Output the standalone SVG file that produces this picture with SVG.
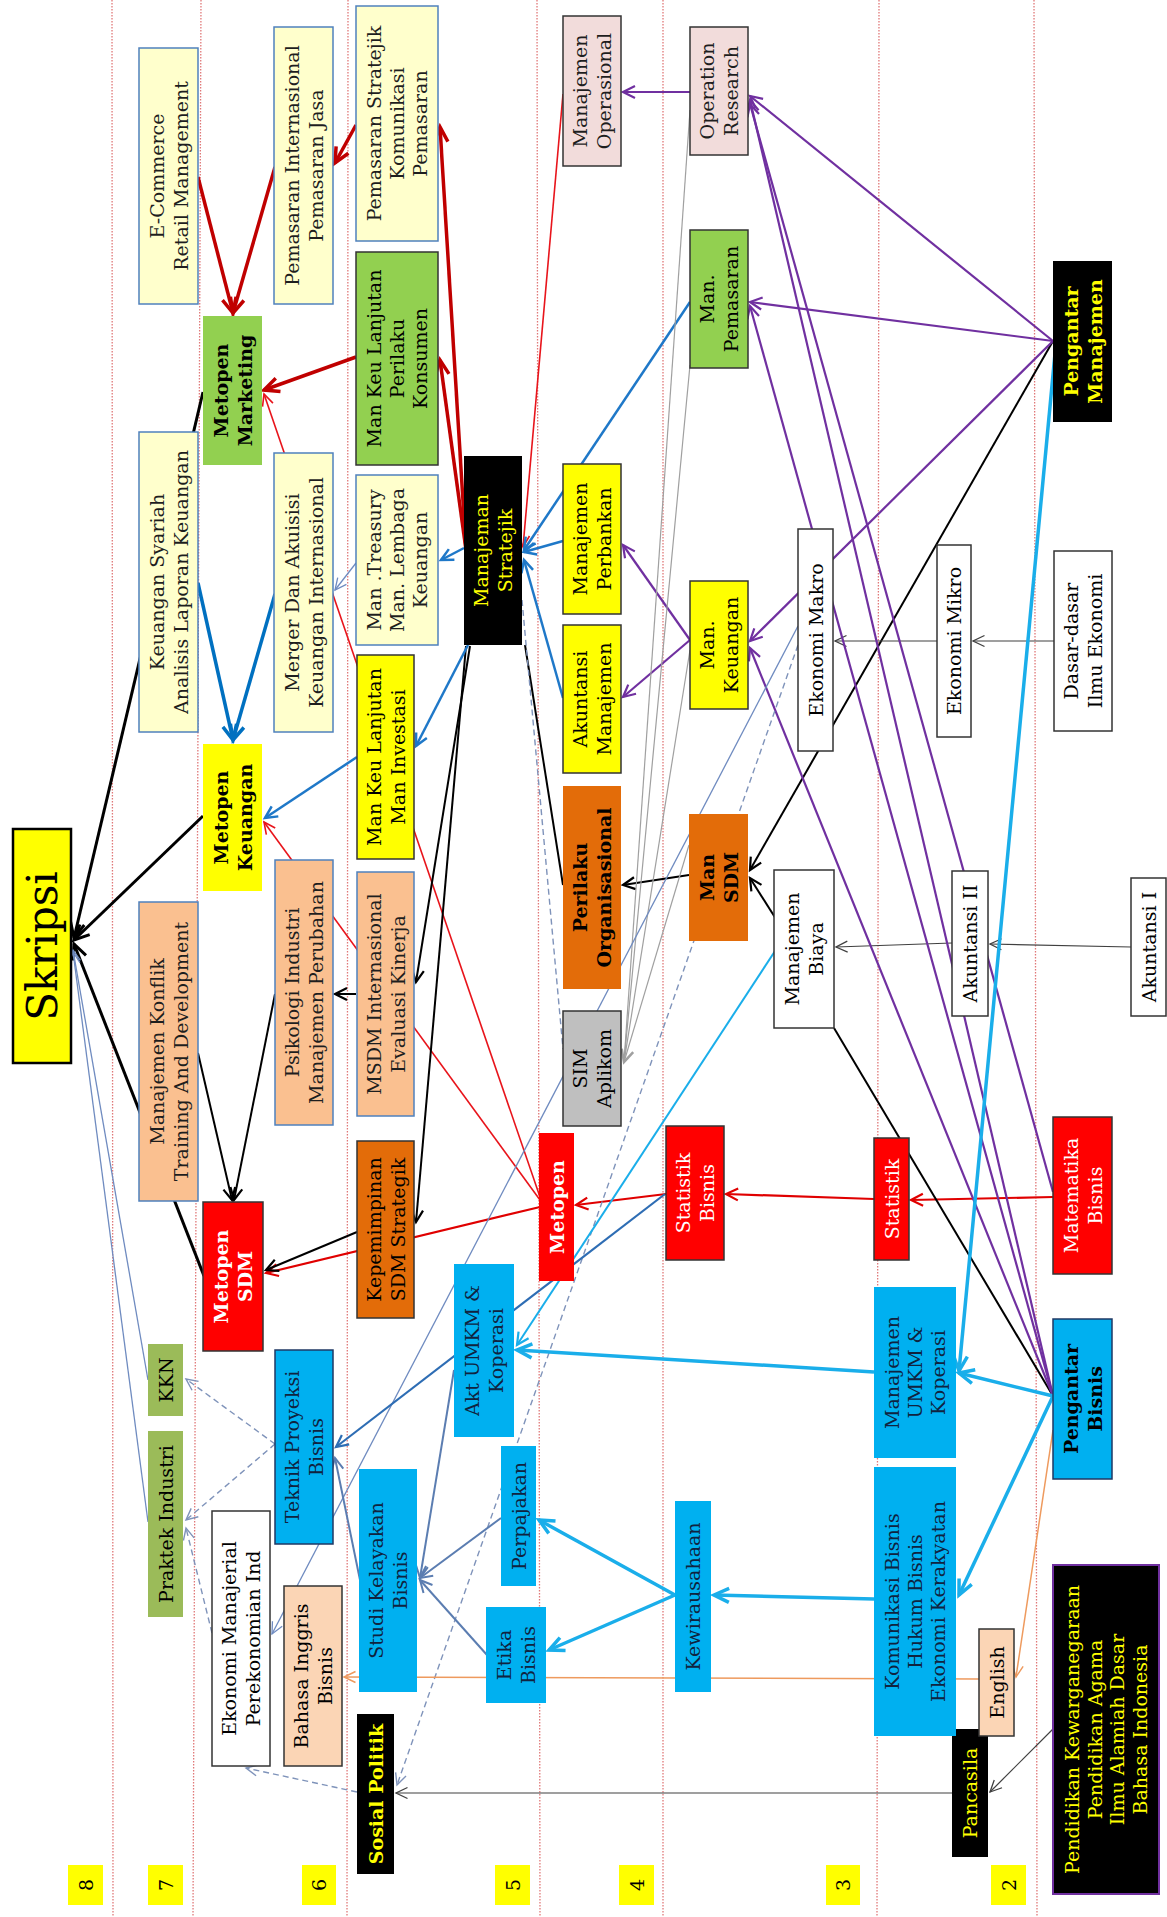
<svg xmlns="http://www.w3.org/2000/svg" width="1167" height="1917" viewBox="0 0 1167 1917">
<defs>
<style>
.sep{stroke:#E07878;stroke-width:1.3;stroke-dasharray:1.5 1.5;fill:none}
.k3{stroke:#000;stroke-width:3}
.k2{stroke:#000;stroke-width:2}
.g1{stroke:#404040;stroke-width:1.2}
.r3{stroke:#C00000;stroke-width:3.5}
.r2{stroke:#E00000;stroke-width:2.2}
.r1{stroke:#E8141B;stroke-width:1.6}
.b3{stroke:#0070C0;stroke-width:3.5}
.b2{stroke:#1F78C8;stroke-width:2.5}
.s2{stroke:#5B7DB1;stroke-width:2}
.s1{stroke:#6F8BC0;stroke-width:1.3}
.p2{stroke:#7030A0;stroke-width:2.2}
.c3{stroke:#1AAEEA;stroke-width:3.5}
.c2{stroke:#1AAEEA;stroke-width:2}
.gy1{stroke:#A0A0A0;stroke-width:1.2}
.d1{stroke:#7F93BA;stroke-width:1.4;stroke-dasharray:6 4}
.o1{stroke:#EE9A5E;stroke-width:1.5}
.db{stroke:#2E6DB4;stroke-width:2.2}
.ly{fill:#FFFFCC;stroke:#4F81BD;stroke-width:1.5}
.pc{fill:#FAC090;stroke:#4F81BD;stroke-width:1.5}
.gr{fill:#92D050}
.grs{fill:#92D050;stroke:#333;stroke-width:1.5}
.ol{fill:#9BBB59}
.yl{fill:#FFFF00}
.yls{fill:#FFFF00;stroke:#333;stroke-width:1.5}
.or{fill:#E36C09}
.ors{fill:#E36C09;stroke:#333;stroke-width:1.5}
.rd{fill:#FF0000}
.rds{fill:#FF0000;stroke:#333;stroke-width:1.5}
.pk{fill:#F2DCDB;stroke:#333;stroke-width:1.5}
.gy{fill:#BFBFBF;stroke:#333;stroke-width:1.5}
.cy{fill:#00B0F0}
.cys{fill:#00B0F0;stroke:#1F3864;stroke-width:1.5}
.wh{fill:#FFFFFF;stroke:#333;stroke-width:1.5}
.bk{fill:#000}
.bp{fill:#000;stroke:#7030A0;stroke-width:2}
.lp{fill:#FBD5B5;stroke:#333;stroke-width:1.5}
.sk{fill:#FFFF00;stroke:#000;stroke-width:2.5}
.t{font-family:"DejaVu Serif","Liberation Serif",serif;font-size:19px;text-anchor:middle;dominant-baseline:central;fill:#1E1E1E}
.b{font-weight:bold}
.w{fill:#FFFFFF}
.y{fill:#FFFF00}
.n{fill:#10233F}
.k{fill:#000}
</style>
<marker id="aBlkL" markerUnits="userSpaceOnUse" viewBox="0 0 20 20" markerWidth="20" markerHeight="20" refX="18" refY="10" orient="auto" overflow="visible"><path d="M3,3 L18,10 L3,17" fill="none" stroke="#000" stroke-width="3"/></marker>
<marker id="aBlkM" markerUnits="userSpaceOnUse" viewBox="0 0 16 16" markerWidth="16" markerHeight="16" refX="14" refY="8" orient="auto" overflow="visible"><path d="M2,2 L14,8 L2,14" fill="none" stroke="#000" stroke-width="2.2"/></marker>
<marker id="aDgyS" markerUnits="userSpaceOnUse" viewBox="0 0 14 14" markerWidth="14" markerHeight="14" refX="13" refY="7" orient="auto" overflow="visible"><path d="M1.5,1.5 L13,7 L1.5,12.5" fill="none" stroke="#404040" stroke-width="1.3"/></marker>
<marker id="aRedL" markerUnits="userSpaceOnUse" viewBox="0 0 20 20" markerWidth="20" markerHeight="20" refX="18" refY="10" orient="auto" overflow="visible"><path d="M3,3 L18,10 L3,17" fill="none" stroke="#C00000" stroke-width="3.5"/></marker>
<marker id="aRedM" markerUnits="userSpaceOnUse" viewBox="0 0 16 16" markerWidth="16" markerHeight="16" refX="14" refY="8" orient="auto" overflow="visible"><path d="M2,2 L14,8 L2,14" fill="none" stroke="#E00000" stroke-width="2.2"/></marker>
<marker id="aRedS" markerUnits="userSpaceOnUse" viewBox="0 0 14 14" markerWidth="14" markerHeight="14" refX="13" refY="7" orient="auto" overflow="visible"><path d="M1.5,1.5 L13,7 L1.5,12.5" fill="none" stroke="#E8141B" stroke-width="1.6"/></marker>
<marker id="aBluL" markerUnits="userSpaceOnUse" viewBox="0 0 20 20" markerWidth="20" markerHeight="20" refX="18" refY="10" orient="auto" overflow="visible"><path d="M3,3 L18,10 L3,17" fill="none" stroke="#0070C0" stroke-width="3.5"/></marker>
<marker id="aBluM" markerUnits="userSpaceOnUse" viewBox="0 0 16 16" markerWidth="16" markerHeight="16" refX="14" refY="8" orient="auto" overflow="visible"><path d="M2,2 L14,8 L2,14" fill="none" stroke="#1F78C8" stroke-width="2.5"/></marker>
<marker id="aDbM" markerUnits="userSpaceOnUse" viewBox="0 0 16 16" markerWidth="16" markerHeight="16" refX="14" refY="8" orient="auto" overflow="visible"><path d="M2,2 L14,8 L2,14" fill="none" stroke="#2E6DB4" stroke-width="2.2"/></marker>
<marker id="aSlaM" markerUnits="userSpaceOnUse" viewBox="0 0 16 16" markerWidth="16" markerHeight="16" refX="14" refY="8" orient="auto" overflow="visible"><path d="M2,2 L14,8 L2,14" fill="none" stroke="#5B7DB1" stroke-width="2"/></marker>
<marker id="aSlaS" markerUnits="userSpaceOnUse" viewBox="0 0 14 14" markerWidth="14" markerHeight="14" refX="13" refY="7" orient="auto" overflow="visible"><path d="M1.5,1.5 L13,7 L1.5,12.5" fill="none" stroke="#6F8BC0" stroke-width="1.3"/></marker>
<marker id="aPurM" markerUnits="userSpaceOnUse" viewBox="0 0 16 16" markerWidth="16" markerHeight="16" refX="14" refY="8" orient="auto" overflow="visible"><path d="M2,2 L14,8 L2,14" fill="none" stroke="#7030A0" stroke-width="2.2"/></marker>
<marker id="aCyaL" markerUnits="userSpaceOnUse" viewBox="0 0 20 20" markerWidth="20" markerHeight="20" refX="18" refY="10" orient="auto" overflow="visible"><path d="M3,3 L18,10 L3,17" fill="none" stroke="#1AAEEA" stroke-width="3.5"/></marker>
<marker id="aCyaM" markerUnits="userSpaceOnUse" viewBox="0 0 16 16" markerWidth="16" markerHeight="16" refX="14" refY="8" orient="auto" overflow="visible"><path d="M2,2 L14,8 L2,14" fill="none" stroke="#1AAEEA" stroke-width="2.2"/></marker>
<marker id="aGryS" markerUnits="userSpaceOnUse" viewBox="0 0 16 16" markerWidth="16" markerHeight="16" refX="14" refY="8" orient="auto" overflow="visible"><path d="M2,2 L14,8 L2,14" fill="none" stroke="#A0A0A0" stroke-width="2.5"/></marker>
<marker id="aDshS" markerUnits="userSpaceOnUse" viewBox="0 0 14 14" markerWidth="14" markerHeight="14" refX="13" refY="7" orient="auto" overflow="visible"><path d="M1.5,1.5 L13,7 L1.5,12.5" fill="none" stroke="#7F93BA" stroke-width="1.4"/></marker>
<marker id="aOrnS" markerUnits="userSpaceOnUse" viewBox="0 0 14 14" markerWidth="14" markerHeight="14" refX="13" refY="7" orient="auto" overflow="visible"><path d="M1.5,1.5 L13,7 L1.5,12.5" fill="none" stroke="#EE9A5E" stroke-width="1.5"/></marker>
</defs>
<rect x="0" y="0" width="1167" height="1917" fill="#FFFFFF"/>
<g id="separators">
<line class="sep" x1="112" y1="0" x2="113" y2="1917"/>
<line class="sep" x1="201" y1="0" x2="193" y2="1917"/>
<line class="sep" x1="348" y1="0" x2="347" y2="1917"/>
<line class="sep" x1="537" y1="0" x2="540" y2="1917"/>
<line class="sep" x1="663" y1="0" x2="663" y2="1917"/>
<line class="sep" x1="879" y1="0" x2="877" y2="1917"/>
<line class="sep" x1="1034" y1="0" x2="1037" y2="1917"/>
</g>
<g id="connectors" fill="none">
<line class="k3" x1="203" y1="392" x2="74" y2="938" marker-end="url(#aBlkL)"/>
<line class="k3" x1="203" y1="816" x2="74" y2="940" marker-end="url(#aBlkL)"/>
<line class="k3" x1="204" y1="1276" x2="74" y2="944" marker-end="url(#aBlkL)"/>
<line class="s1" x1="148" y1="1380" x2="73" y2="950" marker-end="url(#aSlaS)"/>
<line class="s1" x1="148" y1="1522" x2="73" y2="952" marker-end="url(#aSlaS)"/>
<line class="r3" x1="198" y1="177" x2="233" y2="313" marker-end="url(#aRedL)"/>
<line class="r3" x1="275" y1="167" x2="233" y2="313" marker-end="url(#aRedL)"/>
<line class="r3" x1="356" y1="357" x2="264" y2="390" marker-end="url(#aRedL)"/>
<line class="r3" x1="356" y1="125" x2="335" y2="163" marker-end="url(#aRedL)"/>
<line class="r3" x1="466" y1="550" x2="440" y2="127" marker-end="url(#aRedL)"/>
<line class="r3" x1="466" y1="550" x2="440" y2="360" marker-end="url(#aRedL)"/>
<line class="r1" x1="563" y1="94" x2="523" y2="547" marker-end="url(#aRedS)"/>
<line class="r1" x1="540" y1="1197" x2="264" y2="394" marker-end="url(#aRedS)"/>
<line class="r1" x1="540" y1="1200" x2="264" y2="822" marker-end="url(#aRedS)"/>
<line class="r2" x1="540" y1="1207" x2="266" y2="1273" marker-end="url(#aRedM)"/>
<line class="r2" x1="666" y1="1194" x2="576" y2="1205" marker-end="url(#aRedM)"/>
<line class="r2" x1="874" y1="1199" x2="726" y2="1194" marker-end="url(#aRedM)"/>
<line class="r2" x1="1053" y1="1197" x2="911" y2="1200" marker-end="url(#aRedM)"/>
<line class="k2" x1="357" y1="1232" x2="266" y2="1270" marker-end="url(#aBlkM)"/>
<line class="k2" x1="275" y1="994" x2="234" y2="1200" marker-end="url(#aBlkM)"/>
<line class="k2" x1="198" y1="1053" x2="232" y2="1200" marker-end="url(#aBlkM)"/>
<line class="k2" x1="356" y1="994" x2="335" y2="994" marker-end="url(#aBlkM)"/>
<line class="k2" x1="470" y1="646" x2="416" y2="982" marker-end="url(#aBlkM)"/>
<line class="k2" x1="466" y1="646" x2="416" y2="1222" marker-end="url(#aBlkM)"/>
<line class="k2" x1="563" y1="885" x2="525" y2="645"/>
<line class="k2" x1="689" y1="875" x2="623" y2="885" marker-end="url(#aBlkM)"/>
<line class="k2" x1="1053" y1="341" x2="750" y2="870" marker-end="url(#aBlkM)"/>
<line class="k2" x1="776" y1="919" x2="750" y2="878" marker-end="url(#aBlkM)"/>
<line class="k2" x1="1053" y1="1396" x2="834" y2="1028"/>
<line class="g1" x1="952" y1="943" x2="836" y2="947" marker-end="url(#aDgyS)"/>
<line class="g1" x1="1131" y1="947" x2="990" y2="944" marker-end="url(#aDgyS)"/>
<line class="g1" x1="1054" y1="641" x2="973" y2="641" marker-end="url(#aDgyS)"/>
<line class="g1" x1="937" y1="641" x2="835" y2="641" marker-end="url(#aDgyS)"/>
<line class="g1" x1="1053" y1="1729" x2="990" y2="1792" marker-end="url(#aDgyS)"/>
<line class="g1" x1="952" y1="1793" x2="396" y2="1793" marker-end="url(#aDgyS)"/>
<line class="p2" x1="690" y1="92" x2="623" y2="92" marker-end="url(#aPurM)"/>
<line class="p2" x1="1053" y1="341" x2="750" y2="96" marker-end="url(#aPurM)"/>
<line class="p2" x1="1053" y1="341" x2="750" y2="302" marker-end="url(#aPurM)"/>
<line class="p2" x1="1053" y1="341" x2="750" y2="641" marker-end="url(#aPurM)"/>
<line class="p2" x1="1053" y1="1396" x2="750" y2="100" marker-end="url(#aPurM)"/>
<line class="p2" x1="1053" y1="1396" x2="750" y2="306" marker-end="url(#aPurM)"/>
<line class="p2" x1="1053" y1="1396" x2="750" y2="648" marker-end="url(#aPurM)"/>
<line class="p2" x1="1053" y1="1192" x2="750" y2="104" marker-end="url(#aPurM)"/>
<line class="p2" x1="690" y1="640" x2="623" y2="545" marker-end="url(#aPurM)"/>
<line class="p2" x1="690" y1="640" x2="623" y2="697" marker-end="url(#aPurM)"/>
<line class="b3" x1="198" y1="583" x2="233" y2="740" marker-end="url(#aBluL)"/>
<line class="b3" x1="275" y1="594" x2="233" y2="740" marker-end="url(#aBluL)"/>
<line class="b2" x1="357" y1="757" x2="265" y2="818" marker-end="url(#aBluM)"/>
<line class="s1" x1="356" y1="563" x2="335" y2="590" marker-end="url(#aSlaS)"/>
<line class="b2" x1="464" y1="548" x2="441" y2="560" marker-end="url(#aBluM)"/>
<line class="b2" x1="468" y1="645" x2="416" y2="746" marker-end="url(#aBluM)"/>
<line class="b2" x1="690" y1="302" x2="524" y2="550" marker-end="url(#aBluM)"/>
<line class="b2" x1="563" y1="541" x2="524" y2="552" marker-end="url(#aBluM)"/>
<line class="b2" x1="563" y1="698" x2="524" y2="560" marker-end="url(#aBluM)"/>
<line class="gy1" x1="690" y1="110" x2="624" y2="1062"/>
<line class="gy1" x1="690" y1="365" x2="624" y2="1062"/>
<line class="gy1" x1="690" y1="650" x2="624" y2="1062"/>
<line class="gy1" x1="689" y1="845" x2="624" y2="1062" marker-end="url(#aGryS)"/>
<line class="d1" x1="522" y1="600" x2="563" y2="1049"/>
<line class="d1" x1="798" y1="645" x2="397" y2="1785" marker-end="url(#aDshS)"/>
<line class="d1" x1="275" y1="1444" x2="186" y2="1379" marker-end="url(#aDshS)"/>
<line class="d1" x1="275" y1="1444" x2="186" y2="1520" marker-end="url(#aDshS)"/>
<line class="d1" x1="212" y1="1633" x2="186" y2="1528" marker-end="url(#aDshS)"/>
<line class="d1" x1="357" y1="1792" x2="246" y2="1768" marker-end="url(#aDshS)"/>
<line class="s1" x1="798" y1="626" x2="272" y2="1634" marker-end="url(#aSlaS)"/>
<line class="c3" x1="1056" y1="343" x2="959" y2="1371" marker-end="url(#aCyaL)"/>
<line class="c3" x1="1053" y1="1396" x2="959" y2="1373" marker-end="url(#aCyaL)"/>
<line class="c3" x1="1053" y1="1396" x2="959" y2="1595" marker-end="url(#aCyaL)"/>
<line class="c3" x1="874" y1="1372" x2="517" y2="1350" marker-end="url(#aCyaL)"/>
<line class="c3" x1="874" y1="1599" x2="714" y2="1595" marker-end="url(#aCyaL)"/>
<line class="c3" x1="675" y1="1595" x2="539" y2="1520" marker-end="url(#aCyaL)"/>
<line class="c3" x1="675" y1="1595" x2="549" y2="1650" marker-end="url(#aCyaL)"/>
<line class="c2" x1="777" y1="948" x2="517" y2="1345" marker-end="url(#aCyaM)"/>
<line class="db" x1="665" y1="1194" x2="336" y2="1447" marker-end="url(#aDbM)"/>
<line class="s2" x1="454" y1="1370" x2="420" y2="1578" marker-end="url(#aSlaM)"/>
<line class="s2" x1="501" y1="1518" x2="420" y2="1578" marker-end="url(#aSlaM)"/>
<line class="s2" x1="487" y1="1655" x2="420" y2="1580" marker-end="url(#aSlaM)"/>
<line class="s2" x1="360" y1="1580" x2="335" y2="1458" marker-end="url(#aSlaM)"/>
<line class="o1" x1="1053" y1="1430" x2="1016" y2="1677" marker-end="url(#aOrnS)"/>
<line class="o1" x1="979" y1="1679" x2="344" y2="1677" marker-end="url(#aOrnS)"/>
</g>
<g id="levels">
<g id="lv8"><rect class="yl" x="68" y="1865" width="35" height="40"/><text class="t k" transform="translate(85.5,1885) rotate(-90)">8</text></g>
<g id="lv7"><rect class="yl" x="148" y="1865" width="35" height="40"/><text class="t k" transform="translate(165.5,1885) rotate(-90)">7</text></g>
<g id="lv6"><rect class="yl" x="302" y="1865" width="34" height="40"/><text class="t k" transform="translate(319,1885) rotate(-90)">6</text></g>
<g id="lv5"><rect class="yl" x="495" y="1865" width="35" height="40"/><text class="t k" transform="translate(512.5,1885) rotate(-90)">5</text></g>
<g id="lv4"><rect class="yl" x="619" y="1865" width="35" height="40"/><text class="t k" transform="translate(636.5,1885) rotate(-90)">4</text></g>
<g id="lv3"><rect class="yl" x="826" y="1865" width="34" height="40"/><text class="t k" transform="translate(843,1885) rotate(-90)">3</text></g>
<g id="lv2"><rect class="yl" x="991" y="1865" width="35" height="40"/><text class="t k" transform="translate(1008.5,1885) rotate(-90)">2</text></g>
</g>
<g id="nodes">
<g id="n-skripsi"><rect class="sk" x="13" y="829" width="58" height="234"/><text class="t k" style="font-size:42px" transform="translate(42,946) rotate(-90)">Skripsi</text></g>
<g id="n-ecommerce"><rect class="ly" x="139" y="48" width="59" height="256"/><text class="t" transform="translate(168.5,176) rotate(-90)"><tspan x="0" y="-12">E-Commerce</tspan><tspan x="0" y="12">Retail Management</tspan></text></g>
<g id="n-pemint"><rect class="ly" x="274" y="27" width="59" height="277"/><text class="t" transform="translate(303.5,165.5) rotate(-90)"><tspan x="0" y="-12">Pemasaran Internasional</tspan><tspan x="0" y="12">Pemasaran Jasa</tspan></text></g>
<g id="n-pemstr"><rect class="ly" x="356" y="6" width="82" height="235"/><text class="t" transform="translate(397,123.5) rotate(-90)"><tspan x="0" y="-23">Pemasaran Stratejik</tspan><tspan x="0" y="0">Komunikasi</tspan><tspan x="0" y="23">Pemasaran</tspan></text></g>
<g id="n-metmkt"><rect class="gr" x="203" y="316" width="59" height="149"/><text class="t b k" transform="translate(232.5,390.5) rotate(-90)"><tspan x="0" y="-12">Metopen</tspan><tspan x="0" y="12">Marketing</tspan></text></g>
<g id="n-mkperilaku"><rect class="grs" x="356" y="252" width="82" height="213"/><text class="t k" transform="translate(397,358.5) rotate(-90)"><tspan x="0" y="-23">Man Keu Lanjutan</tspan><tspan x="0" y="0">Perilaku</tspan><tspan x="0" y="23">Konsumen</tspan></text></g>
<g id="n-keusyariah"><rect class="ly" x="139" y="432" width="59" height="300"/><text class="t" transform="translate(168.5,582) rotate(-90)"><tspan x="0" y="-12">Keuangan Syariah</tspan><tspan x="0" y="12">Analisis Laporan Keuangan</tspan></text></g>
<g id="n-merger"><rect class="ly" x="274" y="453" width="59" height="279"/><text class="t" transform="translate(303.5,592.5) rotate(-90)"><tspan x="0" y="-12">Merger Dan Akuisisi</tspan><tspan x="0" y="12">Keuangan Internasional</tspan></text></g>
<g id="n-treasury"><rect class="ly" x="356" y="475" width="82" height="170"/><text class="t" transform="translate(397,560) rotate(-90)"><tspan x="0" y="-23">Man .Treasury</tspan><tspan x="0" y="0">Man. Lembaga</tspan><tspan x="0" y="23">Keuangan</tspan></text></g>
<g id="n-manops"><rect class="pk" x="563" y="16" width="58" height="150"/><text class="t" transform="translate(592,91) rotate(-90)"><tspan x="0" y="-12">Manajemen</tspan><tspan x="0" y="12">Operasional</tspan></text></g>
<g id="n-or"><rect class="pk" x="690" y="27" width="58" height="128"/><text class="t" transform="translate(719,91) rotate(-90)"><tspan x="0" y="-12">Operation</tspan><tspan x="0" y="12">Research</tspan></text></g>
<g id="n-manpem"><rect class="grs" x="690" y="230" width="58" height="138"/><text class="t k" transform="translate(719,299) rotate(-90)"><tspan x="0" y="-12">Man.</tspan><tspan x="0" y="12">Pemasaran</tspan></text></g>
<g id="n-stratejik"><rect class="bk" x="464" y="456" width="58" height="189"/><text class="t y" transform="translate(493,550.5) rotate(-90)"><tspan x="0" y="-12">Manajeman</tspan><tspan x="0" y="12">Stratejik</tspan></text></g>
<g id="n-perbankan"><rect class="yls" x="563" y="464" width="58" height="150"/><text class="t k" transform="translate(592,539) rotate(-90)"><tspan x="0" y="-12">Manajemen</tspan><tspan x="0" y="12">Perbankan</tspan></text></g>
<g id="n-mankeu"><rect class="yls" x="690" y="581" width="58" height="128"/><text class="t k" transform="translate(719,645) rotate(-90)"><tspan x="0" y="-12">Man.</tspan><tspan x="0" y="12">Keuangan</tspan></text></g>
<g id="n-pengman"><rect class="bk" x="1053" y="261" width="59" height="161"/><text class="t b y" transform="translate(1082.5,341.5) rotate(-90)"><tspan x="0" y="-12">Pengantar</tspan><tspan x="0" y="12">Manajemen</tspan></text></g>
<g id="n-ekmakro"><rect class="wh" x="798" y="529" width="35" height="222"/><text class="t k" transform="translate(815.5,640) rotate(-90)">Ekonomi Makro</text></g>
<g id="n-ekmikro"><rect class="wh" x="937" y="545" width="34" height="192"/><text class="t k" transform="translate(954,641) rotate(-90)">Ekonomi Mikro</text></g>
<g id="n-dasar"><rect class="wh" x="1054" y="551" width="58" height="180"/><text class="t k" transform="translate(1083,641) rotate(-90)"><tspan x="0" y="-12">Dasar-dasar</tspan><tspan x="0" y="12">Ilmu Ekonomi</tspan></text></g>
<g id="n-metkeu"><rect class="yl" x="203" y="744" width="59" height="147"/><text class="t b k" transform="translate(232.5,817.5) rotate(-90)"><tspan x="0" y="-12">Metopen</tspan><tspan x="0" y="12">Keuangan</tspan></text></g>
<g id="n-konflik"><rect class="pc" x="139" y="902" width="59" height="299"/><text class="t" transform="translate(168.5,1051.5) rotate(-90)"><tspan x="0" y="-12">Manajemen Konflik</tspan><tspan x="0" y="12">Training And Development</tspan></text></g>
<g id="n-psikologi"><rect class="pc" x="275" y="860" width="58" height="265"/><text class="t" transform="translate(304,992.5) rotate(-90)"><tspan x="0" y="-12">Psikologi Industri</tspan><tspan x="0" y="12">Manajemen Perubahan</tspan></text></g>
<g id="n-mkinvest"><rect class="yls" x="357" y="655" width="57" height="204"/><text class="t k" transform="translate(385.5,757) rotate(-90)"><tspan x="0" y="-12">Man Keu Lanjutan</tspan><tspan x="0" y="12">Man Investasi</tspan></text></g>
<g id="n-msdm"><rect class="pc" x="357" y="872" width="57" height="244"/><text class="t" transform="translate(385.5,994) rotate(-90)"><tspan x="0" y="-12">MSDM Internasional</tspan><tspan x="0" y="12">Evaluasi Kinerja</tspan></text></g>
<g id="n-kepemimpinan"><rect class="ors" x="357" y="1141" width="57" height="177"/><text class="t k" transform="translate(385.5,1229.5) rotate(-90)"><tspan x="0" y="-12">Kepemimpinan</tspan><tspan x="0" y="12">SDM Strategik</tspan></text></g>
<g id="n-metsdm"><rect class="rds" x="203" y="1202" width="60" height="149"/><text class="t b w" transform="translate(233,1276.5) rotate(-90)"><tspan x="0" y="-12">Metopen</tspan><tspan x="0" y="12">SDM</tspan></text></g>
<g id="n-aktman"><rect class="yls" x="563" y="625" width="58" height="148"/><text class="t k" transform="translate(592,699) rotate(-90)"><tspan x="0" y="-12">Akuntansi</tspan><tspan x="0" y="12">Manajemen</tspan></text></g>
<g id="n-perilaku"><rect class="or" x="563" y="786" width="58" height="203"/><text class="t b k" transform="translate(592,887.5) rotate(-90)"><tspan x="0" y="-12">Perilaku</tspan><tspan x="0" y="12">Organisasional</tspan></text></g>
<g id="n-sim"><rect class="gy" x="563" y="1011" width="58" height="115"/><text class="t k" transform="translate(592,1068.5) rotate(-90)"><tspan x="0" y="-12">SIM</tspan><tspan x="0" y="12">Aplikom</tspan></text></g>
<g id="n-mansdm"><rect class="or" x="689" y="814" width="59" height="127"/><text class="t b k" transform="translate(718.5,877.5) rotate(-90)"><tspan x="0" y="-12">Man</tspan><tspan x="0" y="12">SDM</tspan></text></g>
<g id="n-metopen"><rect class="rd" x="539" y="1133" width="35" height="148"/><text class="t b w" transform="translate(556.5,1207) rotate(-90)">Metopen</text></g>
<g id="n-statbis"><rect class="rds" x="666" y="1126" width="58" height="134"/><text class="t w" transform="translate(695,1193) rotate(-90)"><tspan x="0" y="-12">Statistik</tspan><tspan x="0" y="12">Bisnis</tspan></text></g>
<g id="n-manbiaya"><rect class="wh" x="774" y="870" width="60" height="158"/><text class="t k" transform="translate(804,949) rotate(-90)"><tspan x="0" y="-12">Manajemen</tspan><tspan x="0" y="12">Biaya</tspan></text></g>
<g id="n-akt2"><rect class="wh" x="952" y="871" width="36" height="145"/><text class="t k" transform="translate(970,943.5) rotate(-90)">Akuntansi II</text></g>
<g id="n-akt1"><rect class="wh" x="1131" y="878" width="35" height="138"/><text class="t k" transform="translate(1148.5,947) rotate(-90)">Akuntansi I</text></g>
<g id="n-statistik"><rect class="rds" x="874" y="1138" width="35" height="122"/><text class="t w" transform="translate(891.5,1199) rotate(-90)">Statistik</text></g>
<g id="n-matbis"><rect class="rds" x="1053" y="1117" width="59" height="157"/><text class="t w" transform="translate(1082.5,1195.5) rotate(-90)"><tspan x="0" y="-12">Matematika</tspan><tspan x="0" y="12">Bisnis</tspan></text></g>
<g id="n-kkn"><rect class="ol" x="148" y="1344" width="35" height="72"/><text class="t k" transform="translate(165.5,1380) rotate(-90)">KKN</text></g>
<g id="n-praktek"><rect class="ol" x="148" y="1431" width="35" height="186"/><text class="t k" transform="translate(165.5,1524) rotate(-90)">Praktek Industri</text></g>
<g id="n-teknik"><rect class="cys" x="275" y="1350" width="58" height="194"/><text class="t n" transform="translate(304,1447) rotate(-90)"><tspan x="0" y="-12">Teknik Proyeksi</tspan><tspan x="0" y="12">Bisnis</tspan></text></g>
<g id="n-ekmanajerial"><rect class="wh" x="212" y="1511" width="58" height="255"/><text class="t k" transform="translate(241,1638.5) rotate(-90)"><tspan x="0" y="-12">Ekonomi Manajerial</tspan><tspan x="0" y="12">Perekonomian Ind</tspan></text></g>
<g id="n-bahasa"><rect class="lp" x="284" y="1586" width="58" height="180"/><text class="t k" transform="translate(313,1676) rotate(-90)"><tspan x="0" y="-12">Bahasa Inggris</tspan><tspan x="0" y="12">Bisnis</tspan></text></g>
<g id="n-studi"><rect class="cy" x="359" y="1469" width="58" height="223"/><text class="t n" transform="translate(388,1580.5) rotate(-90)"><tspan x="0" y="-12">Studi Kelayakan</tspan><tspan x="0" y="12">Bisnis</tspan></text></g>
<g id="n-sospol"><rect class="bk" x="357" y="1714" width="37" height="160"/><text class="t b y" transform="translate(375.5,1794) rotate(-90)">Sosial Politik</text></g>
<g id="n-aktumkm"><rect class="cy" x="454" y="1264" width="60" height="173"/><text class="t n" transform="translate(484,1350.5) rotate(-90)"><tspan x="0" y="-12">Akt UMKM &amp;</tspan><tspan x="0" y="12">Koperasi</tspan></text></g>
<g id="n-perpajakan"><rect class="cy" x="501" y="1446" width="35" height="140"/><text class="t n" transform="translate(518.5,1516) rotate(-90)">Perpajakan</text></g>
<g id="n-etika"><rect class="cy" x="486" y="1607" width="60" height="96"/><text class="t n" transform="translate(516,1655) rotate(-90)"><tspan x="0" y="-12">Etika</tspan><tspan x="0" y="12">Bisnis</tspan></text></g>
<g id="n-kewirausahaan"><rect class="cy" x="675" y="1501" width="36" height="191"/><text class="t n" transform="translate(693,1596.5) rotate(-90)">Kewirausahaan</text></g>
<g id="n-pancasila"><rect class="bk" x="952" y="1729" width="36" height="128"/><text class="t y" transform="translate(970,1793) rotate(-90)">Pancasila</text></g>
<g id="n-manumkm"><rect class="cy" x="874" y="1287" width="82" height="171"/><text class="t n" transform="translate(915,1372.5) rotate(-90)"><tspan x="0" y="-23">Manajemen</tspan><tspan x="0" y="0">UMKM &amp;</tspan><tspan x="0" y="23">Koperasi</tspan></text></g>
<g id="n-komunikasi"><rect class="cy" x="874" y="1467" width="82" height="269"/><text class="t n" transform="translate(915,1601.5) rotate(-90)"><tspan x="0" y="-23">Komunikasi Bisnis</tspan><tspan x="0" y="0">Hukum Bisnis</tspan><tspan x="0" y="23">Ekonomi Kerakyatan</tspan></text></g>
<g id="n-pengbis"><rect class="cys" x="1053" y="1319" width="59" height="160"/><text class="t b k" transform="translate(1082.5,1399) rotate(-90)"><tspan x="0" y="-12">Pengantar</tspan><tspan x="0" y="12">Bisnis</tspan></text></g>
<g id="n-english"><rect class="lp" x="979" y="1629" width="35" height="107"/><text class="t k" transform="translate(996.5,1682.5) rotate(-90)">English</text></g>
<g id="n-mku"><rect class="bp" x="1053" y="1565" width="106" height="329"/><text class="t y" transform="translate(1106,1729.5) rotate(-90)"><tspan x="0" y="-34">Pendidikan Kewarganegaraan</tspan><tspan x="0" y="-11.3">Pendidikan Agama</tspan><tspan x="0" y="11.3">Ilmu Alamiah Dasar</tspan><tspan x="0" y="34">Bahasa Indonesia</tspan></text></g>
</g>
</svg>
